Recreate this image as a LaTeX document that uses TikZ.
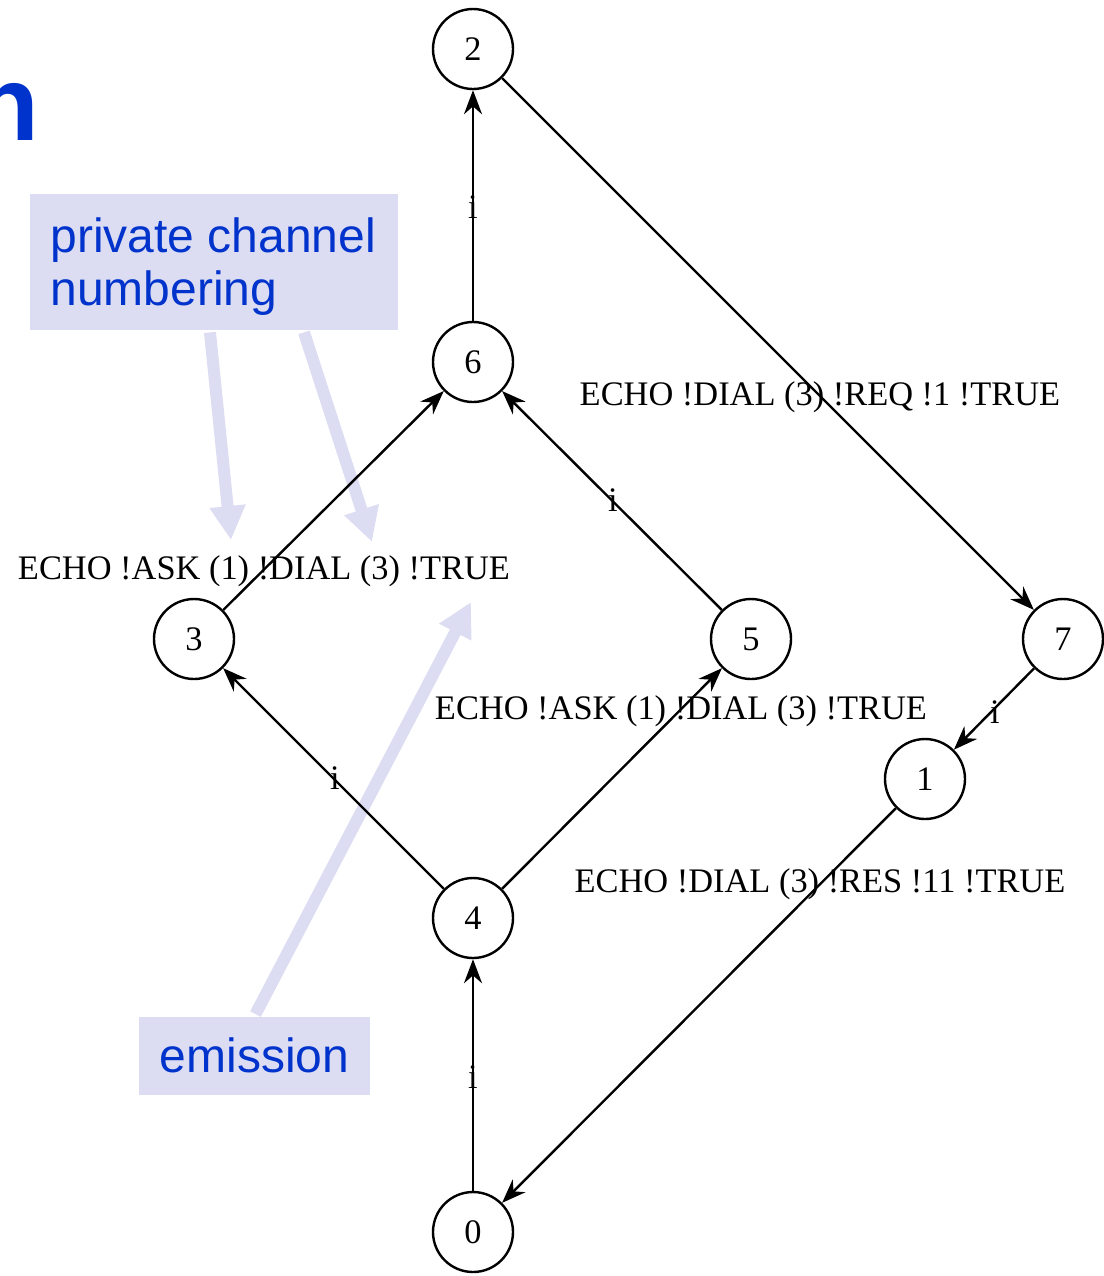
\documentclass[tikz,border=0pt]{standalone}
\usepackage{fontspec}
\setmainfont{Liberation Serif}
\newfontfamily\calloutfont{Liberation Sans}
\usetikzlibrary{arrows.meta}
\definecolor{titleblue}{RGB}{0,51,204}
\definecolor{lavender}{RGB}{220,220,242}
\tikzset{
  state/.style={circle,draw,line width=1.2pt,minimum size=40pt,inner sep=0pt,
    font=\fontsize{17.2}{20}\selectfont},
  trans/.style={line width=1.2pt,-{Stealth[length=12pt,width=9pt]}},
  lab/.style={inner sep=0pt,font=\fontsize{17.2}{20}\selectfont},
  notebox/.style={fill=lavender,inner sep=0pt},
  notetext/.style={inner sep=0pt,text=titleblue,align=left,
    font=\calloutfont\fontsize{24}{26.5}\selectfont},
  pointer/.style={draw=lavender,line width=6pt,
    -{Triangle[length=17pt,width=17pt]}}
}
\begin{document}
\begin{tikzpicture}[x=0.5pt,y=-0.5pt]
\useasboundingbox (0,0) rectangle (1104,1276);
\clip (0,0) rectangle (1104,1276);

% cut-off heading letter
\node[anchor=base east,inner sep=0pt,text=titleblue,
  font=\calloutfont\bfseries\fontsize{53}{60}\selectfont] (heading) at (40,140) {n};

% callout boxes and their pointers (drawn beneath the graph)
\node[notebox,minimum width=184pt,minimum height=68pt] (privbox) at (214,262) {};
\node[notetext,anchor=base west] (privtext) at (50,305) {private channel\\numbering};
\node[notebox,minimum width=115.5pt,minimum height=39pt] (emitbox) at (254.5,1055.5) {};
\node[notetext,anchor=base] (emittext) at (254.5,1072) {emission};
\coordinate (privA) at (231,540);
\coordinate (privB) at (372,542);
\coordinate (emitC) at (471,602);
\draw[pointer] ([xshift=-1pt]privbox.south) ++(-2,2) -- (privA);
\draw[pointer] ([xshift=45pt]privbox.south) ++(0,2) -- (privB);
\draw[pointer] (emitbox.north) ++(1,-2) -- (emitC);

% states
\node[state] (s2) at (473,49) {2};
\node[state] (s6) at (473,362) {6};
\node[state] (s3) at (194,639) {3};
\node[state] (s5) at (751,639) {5};
\node[state] (s7) at (1063,639) {7};
\node[state] (s1) at (925,779) {1};
\node[state] (s4) at (473,918) {4};
\node[state] (s0) at (473,1232) {0};

% transitions
\draw[trans] (s6) -- (s2);
\draw[trans] (s2) -- (s7);
\draw[trans] (s3) -- (s6);
\draw[trans] (s5) -- (s6);
\draw[trans] (s4) -- (s3);
\draw[trans] (s4) -- (s5);
\draw[trans] (s7) -- (s1);
\draw[trans] (s1) -- (s0);
\draw[trans] (s0) -- (s4);

% transition labels
\node[lab] (l62) at (473,207) {i};
\node[lab] (l27) at (820,397) {ECHO !DIAL (3) !REQ !1 !TRUE};
\node[lab] (l36) at (264,571) {ECHO !ASK (1) !DIAL (3) !TRUE};
\node[lab] (l56) at (613,500) {i};
\node[lab] (l43) at (335,778) {i};
\node[lab] (l45) at (681,711) {ECHO !ASK (1) !DIAL (3) !TRUE};
\node[lab] (l71) at (995,712) {i};
\node[lab] (l10) at (820,884) {ECHO !DIAL (3) !RES !11 !TRUE};
\node[lab] (l04) at (473,1077) {i};
\end{tikzpicture}
\end{document}
